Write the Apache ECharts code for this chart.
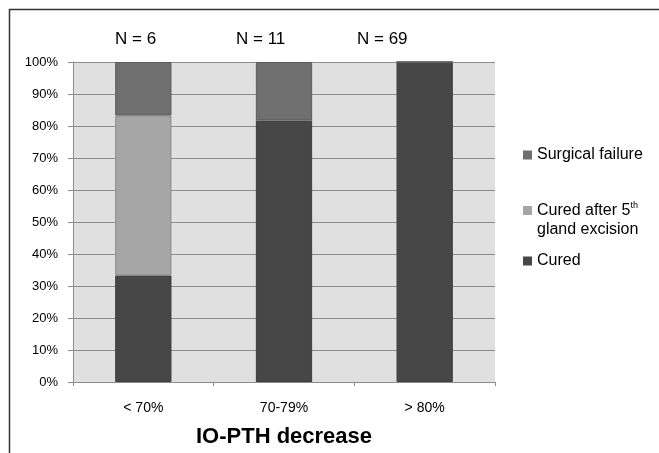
<!DOCTYPE html>
<html>
<head>
<meta charset="utf-8">
<script src="https://cdn.jsdelivr.net/npm/echarts@6/dist/echarts.min.js"></script>
<style>html,body{margin:0;padding:0;background:#fff;}#c{width:659px;height:453px;}</style>
</head>
<body>
<div id="c"></div>
<script>
var categories = ['< 70%', '70-79%', '> 80%'];
var cured = [33.3, 81.8, 100];
var curedAfter5th = [50, 0, 0];
var surgicalFailure = [16.7, 18.2, 0];
var nLabels = ['N = 6', 'N = 11', 'N = 69'];
var seriesNames = ['Cured', 'Cured after 5th gland excision', 'Surgical failure'];

var chart = echarts.init(document.getElementById('c'));
var FONT = '"Liberation Sans", Arial, sans-serif';
var nLeft = [115, 236, 357];

var option = {
  animation: false,
  backgroundColor: '#fff',
  textStyle: { fontFamily: FONT },
  grid: { left: 73, right: 164, top: 62, bottom: 65, show: true, backgroundColor: '#e0e0e0', borderWidth: 0 },
  xAxis: {
    type: 'category',
    data: categories,
    name: 'IO-PTH decrease',
    nameLocation: 'middle',
    nameGap: 44,
    nameTextStyle: { fontFamily: FONT, fontSize: 22, fontWeight: 'bold', color: '#000' },
    axisLine: { show: true, lineStyle: { color: '#8c8c8c', width: 1 } },
    axisTick: { show: true, length: 4, lineStyle: { color: '#8c8c8c' } },
    axisLabel: { fontFamily: FONT, fontSize: 14, color: '#000', margin: 19 }
  },
  yAxis: {
    type: 'value',
    min: 0, max: 100, interval: 10,
    axisLine: { show: true, lineStyle: { color: '#8c8c8c', width: 1 } },
    axisTick: { show: true, length: 5, lineStyle: { color: '#8c8c8c' } },
    axisLabel: { fontFamily: FONT, fontSize: 13, color: '#000', margin: 15, formatter: '{value}%' },
    splitLine: { show: true, lineStyle: { color: '#8c8c8c', width: 1 } }
  },
  legend: [
    { data: [seriesNames[2]], orient: 'vertical', left: 523, top: 147, padding: 0, itemWidth: 9, itemHeight: 9, icon: 'rect',
      itemStyle: { borderWidth: 0 },
      textStyle: { fontFamily: FONT, fontSize: 16, color: '#000' } },
    { data: [seriesNames[1]], orient: 'vertical', left: 523, top: 182, padding: 0, itemWidth: 9, itemHeight: 9, icon: 'rect',
      itemStyle: { borderWidth: 0 },
      formatter: function () { return '{m|Cured after 5}{sup|th}\n{m|gland excision}'; },
      textStyle: { fontFamily: FONT, fontSize: 16, color: '#000', lineHeight: 19, padding: [19, 0, 0, 0],
        rich: {
          m: { fontFamily: FONT, fontSize: 16, color: '#000', lineHeight: 19 },
          sup: { fontFamily: FONT, fontSize: 9, color: '#000', verticalAlign: 'top', lineHeight: 19, padding: [0, 0, 6, 0] }
        } } },
    { data: [seriesNames[0]], orient: 'vertical', left: 523, top: 253, padding: 0, itemWidth: 9, itemHeight: 9, icon: 'rect',
      itemStyle: { borderWidth: 0 },
      textStyle: { fontFamily: FONT, fontSize: 16, color: '#000' } }
  ],
  series: [
    { name: seriesNames[0], type: 'bar', stack: 'a', data: cured, barWidth: '40%',
      itemStyle: { color: '#474747', borderColor: '#3c3c3c', borderWidth: 1 } },
    { name: seriesNames[1], type: 'bar', stack: 'a', data: curedAfter5th, barWidth: '40%',
      itemStyle: { color: '#a6a6a6', borderColor: '#8e8e8e', borderWidth: 1 } },
    { name: seriesNames[2], type: 'bar', stack: 'a', data: surgicalFailure, barWidth: '40%',
      itemStyle: { color: '#6f6f6f', borderColor: '#5c5c5c', borderWidth: 1 } }
  ],
  graphic: [
    { type: 'polyline', shape: { points: [[9.5, 453], [9.5, 9.5], [659, 9.5]] }, style: { stroke: '#333', lineWidth: 1.5, fill: null }, silent: true }
  ].concat(nLabels.map(function (t, i) {
    return { type: 'text', left: nLeft[i], top: 31, style: { text: t, fontFamily: FONT, fontSize: 17, fill: '#000' }, silent: true };
  }))
};
chart.setOption(option);
</script>
</body>
</html>
